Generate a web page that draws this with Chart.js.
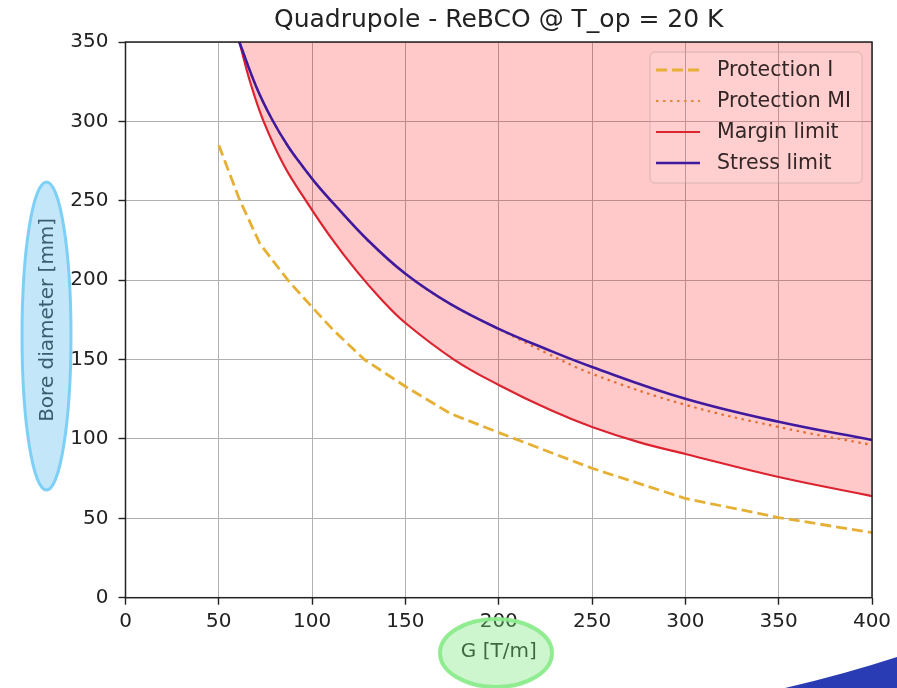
<!DOCTYPE html>
<html>
<head>
<meta charset="utf-8">
<title>Quadrupole - ReBCO @ T_op = 20 K</title>
<script src="https://cdn.jsdelivr.net/npm/chart.js@4.4.1/dist/chart.umd.min.js"></script>
<style>
  html, body { margin: 0; padding: 0; background: #fff; }
  canvas { display: block; }
</style>
</head>
<body>
<canvas id="quadChart" width="897" height="688"></canvas>
<script>
// G [T/m] vs bore diameter [mm]
const gProtI = [50, 61, 72, 87, 100, 111, 128, 150, 174, 200, 250, 300, 350, 400];
const dProtI = [285, 251, 223, 200, 183, 169, 150, 133, 116, 104, 81.5, 62.5, 50.5, 41];

const gProtMI = [61, 70, 78.4, 87, 95, 103, 111.3, 130, 150, 174, 200, 225, 250, 300, 350, 400];
const dProtMI = [350, 322, 301.5, 284.5, 271.5, 259.5, 248.5, 225, 204, 185, 169.3, 154.5, 141, 121.5, 107.5, 96.2];

const gMargin = [61, 67, 74, 85, 97, 110, 124, 137, 150, 176, 200, 228, 250, 275, 300, 350, 400];
const dMargin = [350, 324, 300, 272, 249.5, 227, 205.5, 188, 173, 150, 134, 118, 107.5, 98, 90.5, 76, 64];

const gStress = [61, 70, 78.4, 87, 95, 103, 111.3, 130, 150, 174, 200, 225, 250, 300, 350, 400];
const dStress = [350, 322, 301.5, 284.5, 271.5, 259.5, 248.5, 225, 204, 185, 169.3, 156.8, 145.3, 125.3, 110.8, 99.3];

const xTicks = [0, 50, 100, 150, 200, 250, 300, 350, 400];
const yTicks = [0, 50, 100, 150, 200, 250, 300, 350];

const toPoints = (xs, ys) => xs.map((x, i) => ({ x: x, y: ys[i] }));

Chart.defaults.font.family = '"DejaVu Sans", sans-serif';
Chart.defaults.color = '#222';

// legend inside the plot, frame on top, and the highlight marks of the slide
const decorPlugin = {
    id: 'decor',
    afterDatasetsDraw(chart) {
        const ctx = chart.ctx;
        const a = chart.chartArea;
        ctx.save();

        // legend box
        ctx.beginPath();
        ctx.roundRect(650, 52, 212, 131, 5);
        ctx.fillStyle = 'rgba(255,255,255,0.08)';
        ctx.fill();
        ctx.strokeStyle = 'rgba(190,160,160,0.6)';
        ctx.lineWidth = 1;
        ctx.stroke();

        ctx.font = '20.5px "DejaVu Sans"';
        ctx.textBaseline = 'middle';
        chart.data.datasets.forEach((ds, i) => {
            const y = 70 + i * 31;
            ctx.beginPath();
            ctx.setLineDash(ds.borderDash || []);
            ctx.strokeStyle = ds.borderColor;
            ctx.lineWidth = ds.borderWidth;
            ctx.moveTo(656, y);
            ctx.lineTo(700, y);
            ctx.stroke();
            ctx.setLineDash([]);
            ctx.fillStyle = '#332626';
            ctx.fillText(ds.label, 717, y + 1);
        });

        // axes frame
        ctx.strokeStyle = '#222';
        ctx.lineWidth = 1.5;
        ctx.strokeRect(a.left, a.top, a.right - a.left, a.bottom - a.top);
        ctx.restore();
    },
    afterDraw(chart) {
        const ctx = chart.ctx;
        ctx.save();
        // blue highlight round the y label
        ctx.beginPath();
        ctx.ellipse(46.5, 336, 24.5, 154, 0, 0, Math.PI * 2);
        ctx.fillStyle = 'rgba(100,190,240,0.38)';
        ctx.fill();
        ctx.strokeStyle = 'rgba(120,205,245,0.95)';
        ctx.lineWidth = 3;
        ctx.stroke();

        // green highlight round the x label
        ctx.beginPath();
        ctx.ellipse(496, 653, 56, 34, 0, 0, Math.PI * 2);
        ctx.fillStyle = 'rgba(120,230,120,0.36)';
        ctx.fill();
        ctx.strokeStyle = 'rgba(140,235,140,0.95)';
        ctx.lineWidth = 4;
        ctx.stroke();

        // brush stroke in the corner
        ctx.beginPath();
        ctx.moveTo(785, 688);
        ctx.quadraticCurveTo(845, 674, 897, 657);
        ctx.lineTo(897, 688);
        ctx.closePath();
        ctx.fillStyle = '#2a3cb4';
        ctx.fill();
        ctx.restore();
    }
};

new Chart(document.getElementById('quadChart'), {
    type: 'scatter',
    data: {
        datasets: [
            {
                label: 'Protection I',
                data: toPoints(gProtI, dProtI),
                showLine: true,
                borderColor: '#e6b034',
                borderWidth: 2.8,
                borderDash: [11, 5],
                pointRadius: 0,
                tension: 0,
                order: 4
            },
            {
                label: 'Protection MI',
                data: toPoints(gProtMI, dProtMI),
                showLine: true,
                borderColor: '#e08a3a',
                borderWidth: 2.2,
                borderDash: [2.5, 4.5],
                pointRadius: 0,
                tension: 0.4,
                order: 3
            },
            {
                label: 'Margin limit',
                data: toPoints(gMargin, dMargin),
                showLine: true,
                borderColor: '#dc2330',
                borderWidth: 2.2,
                pointRadius: 0,
                tension: 0.4,
                fill: 'end',
                backgroundColor: 'rgba(255,0,0,0.21)',
                order: 2
            },
            {
                label: 'Stress limit',
                data: toPoints(gStress, dStress),
                showLine: true,
                borderColor: '#3f1a9e',
                borderWidth: 2.6,
                pointRadius: 0,
                tension: 0.4,
                order: 1
            }
        ]
    },
    options: {
        responsive: false,
        animation: false,
        layout: { padding: { left: 0, right: 25, top: 0, bottom: 0 } },
        plugins: {
            legend: { display: false },
            tooltip: { enabled: false },
            title: {
                display: true,
                fullSize: false,
                text: 'Quadrupole - ReBCO @ T_op = 20 K',
                font: { size: 25, weight: 'normal' },
                color: '#222',
                padding: { top: 5, bottom: 7 }
            }
        },
        scales: {
            x: {
                type: 'linear',
                min: 0,
                max: 400,
                afterBuildTicks: s => { s.ticks = xTicks.map(v => ({ value: v })); },
                afterFit: s => { s.height = 90.3; },
                ticks: { font: { size: 20 }, color: '#222', padding: 5, maxRotation: 0 },
                grid: { color: '#b0b0b0', lineWidth: 1, tickColor: '#222', tickWidth: 1.4, tickLength: 7 },
                border: { display: false },
                title: {
                    display: true,
                    text: 'G [T/m]',
                    font: { size: 20 },
                    color: '#222',
                    padding: { top: 0, bottom: 24 }
                }
            },
            y: {
                type: 'linear',
                min: 0,
                max: 350,
                afterBuildTicks: s => { s.ticks = yTicks.map(v => ({ value: v })); },
                afterFit: s => { s.width = 125.5; },
                ticks: { font: { size: 20 }, color: '#222', padding: 10 },
                grid: { color: '#b0b0b0', lineWidth: 1, tickColor: '#222', tickWidth: 1.4, tickLength: 7 },
                border: { display: false },
                title: {
                    display: true,
                    text: 'Bore diameter [mm]',
                    font: { size: 20 },
                    color: '#222',
                    padding: { top: 36, bottom: 0 }
                }
            }
        }
    },
    plugins: [decorPlugin]
});
</script>
</body>
</html>
